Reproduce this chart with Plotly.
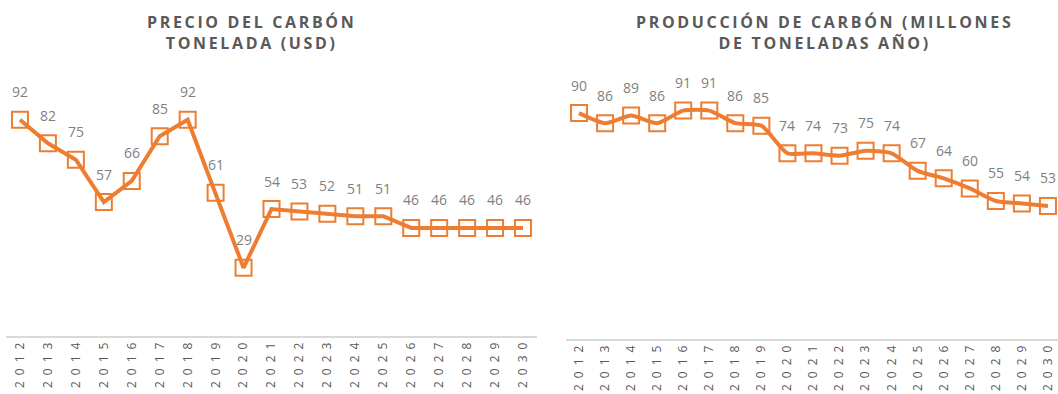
import plotly.graph_objects as go

years = list(range(2012, 2031))
precio = [92, 82, 75, 57, 66, 85, 92, 61, 29, 54, 53, 52, 51, 51, 46, 46, 46, 46, 46]
produccion = [90, 86, 89, 86, 91, 91, 86, 85, 74, 74, 73, 75, 74, 67, 64, 60, 55, 54, 53]

title_left = "PRECIO DEL CARBÓN<br>TONELADA (USD)"
title_right = "PRODUCCIÓN DE CARBÓN (MILLONES<br>DE TONELADAS AÑO)"

ORANGE = "#ED7D31"
LABEL_GRAY = "#7F7F7F"
TITLE_GRAY = "#595959"
W, H = 1058, 394

TITLE_SP = "\u2009"   # thin space between title letters
TICK_SP = "\u2002"    # en space between year digits


def spaced(text, sp):
    return "<br>".join(sp.join(line) for line in text.split("<br>"))


tick_text = [spaced(str(y), TICK_SP) for y in years]

fig = go.Figure()

panels = [
    dict(vals=precio, xa="x", ya="y", smooth=0.0),
    dict(vals=produccion, xa="x2", ya="y2", smooth=0.6),
]

for p in panels:
    line = dict(color=ORANGE, width=4)
    if p["smooth"]:
        line.update(shape="spline", smoothing=p["smooth"])
    fig.add_trace(go.Scatter(
        x=years, y=p["vals"], xaxis=p["xa"], yaxis=p["ya"],
        mode="lines+markers", line=line,
        marker=dict(symbol="square-open", size=16, color=ORANGE,
                    line=dict(width=2, color=ORANGE)),
        showlegend=False, hoverinfo="skip",
    ))
    for yr, v in zip(years, p["vals"]):
        fig.add_annotation(
            x=yr, y=v, xref=p["xa"], yref=p["ya"], text=str(v),
            showarrow=False, yshift=28,
            font=dict(family="Open Sans", size=14, color=LABEL_GRAY),
        )

axis_common = dict(
    showgrid=False, zeroline=False, showline=True, linecolor="#D9D9D9",
    linewidth=1.5, ticks="", tickmode="array", tickvals=years,
    ticktext=tick_text, tickangle=-90,
    tickfont=dict(family="Open Sans", size=12, color=TITLE_GRAY),
)
yaxis_common = dict(showgrid=False, zeroline=False, showline=False,
                    showticklabels=False, range=[0, 100], fixedrange=True)

fig.update_layout(
    width=W, height=H,
    margin=dict(l=0, r=0, t=0, b=0),
    paper_bgcolor="white", plot_bgcolor="white",
    xaxis=dict(domain=[6 / W, 537 / W], range=[2011.5, 2030.5],
               anchor="y", **axis_common),
    yaxis=dict(domain=[(H - 336) / H, (H - 101) / H], anchor="x",
               **yaxis_common),
    xaxis2=dict(domain=[566 / W, 1.0], range=[2011.5, 2011.5 + 492 / 26.05],
                anchor="y2", **axis_common),
    yaxis2=dict(domain=[(H - 339) / H, (H - 88) / H], anchor="x2",
                **yaxis_common),
)

for txt, xc in [(title_left, 250), (title_right, 823)]:
    fig.add_annotation(
        x=xc / W, y=1 - 9 / H, xref="paper", yref="paper",
        xanchor="center", yanchor="top", showarrow=False,
        text="<b>" + spaced(txt, TITLE_SP) + "</b>",
        font=dict(family="Open Sans", size=16, color=TITLE_GRAY),
    )

fig.write_html("out.html")
